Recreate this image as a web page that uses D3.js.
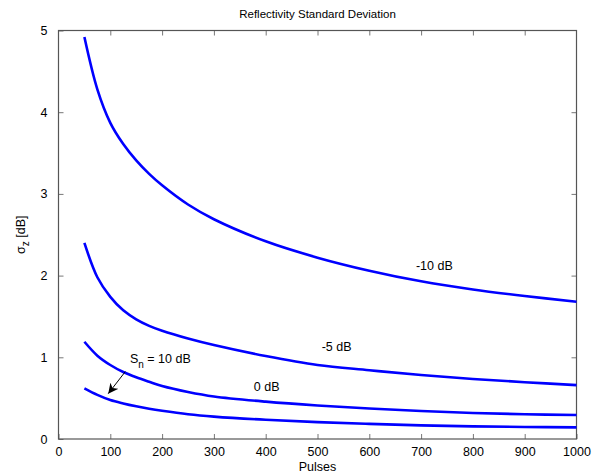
<!DOCTYPE html>
<html>
<head>
<meta charset="utf-8">
<script src="https://cdn.jsdelivr.net/npm/d3@7"></script>
<style>
  body { margin: 0; background: #fff; }
  text { font-family: "Liberation Sans", Arial, sans-serif; }
</style>
</head>
<body>
<script>
// pulses (x) and sigma_z values, one array per Sn
let pulses = [50, 75, 100, 125, 150, 175, 200, 250, 300, 400, 500, 600, 700, 800, 900, 1000]
let snMinus10 = [4.92, 4.28, 3.87, 3.61, 3.41, 3.245, 3.105, 2.87, 2.69, 2.42, 2.22, 2.06, 1.93, 1.83, 1.75, 1.68]
let snMinus5 = [2.40, 1.98, 1.74, 1.575, 1.465, 1.385, 1.325, 1.23, 1.15, 1.015, 0.905, 0.842, 0.783, 0.735, 0.695, 0.66]
let sn0 = [1.19, 1.02, 0.906, 0.82, 0.755, 0.70, 0.648, 0.575, 0.52, 0.457, 0.41, 0.373, 0.342, 0.318, 0.303, 0.293]
let sn10 = [0.62, 0.54, 0.477, 0.435, 0.40, 0.37, 0.345, 0.303, 0.274, 0.235, 0.207, 0.185, 0.167, 0.155, 0.147, 0.142]

let xTicks = [0, 100, 200, 300, 400, 500, 600, 700, 800, 900, 1000]
let yTicks = [0, 1, 2, 3, 4, 5]

let width = 599
let height = 475
let margin = { top: 30.5, right: 22.5, bottom: 36, left: 58.5 }

const x = d3.scaleLinear()
  .domain([0, 1000])
  .range([margin.left, width - margin.right])

const y = d3.scaleLinear()
  .domain([0, 5])
  .range([height - margin.bottom, margin.top])

const svg = d3.select("body")
  .append("svg")
  .attr("width", width)
  .attr("height", height)

svg.append("defs")
  .append("marker")
  .attr("id", "head")
  .attr("viewBox", "0 0 10 10")
  .attr("refX", 10)
  .attr("refY", 5)
  .attr("markerWidth", 10)
  .attr("markerHeight", 10)
  .attr("markerUnits", "userSpaceOnUse")
  .attr("orient", "auto")
  .append("path")
  .attr("d", "M0,0 L10,5 L0,10 L3,5 Z")
  .attr("fill", "#000")

// axes, ticks pointing inward on all four sides
const tickColor = "#777"

svg.append("g")
  .attr("transform", `translate(0,${y(0)})`)
  .call(d3.axisBottom(x).tickValues(xTicks).tickSize(-5).tickPadding(8).tickFormat(d3.format("d")))
  .call(g => g.select(".domain").remove())
  .call(g => g.selectAll("line").attr("stroke", tickColor))
  .call(g => g.selectAll("text").attr("font-size", "12.5px").attr("fill", "#000"))

svg.append("g")
  .attr("transform", `translate(0,${y(5)})`)
  .call(d3.axisTop(x).tickValues(xTicks.slice(1, -1)).tickSize(-5).tickFormat(""))
  .call(g => g.select(".domain").remove())
  .call(g => g.selectAll("line").attr("stroke", tickColor))

svg.append("g")
  .attr("transform", `translate(${x(0)},0)`)
  .call(d3.axisLeft(y).tickValues(yTicks).tickSize(-5).tickPadding(11).tickFormat(d3.format("d")))
  .call(g => g.select(".domain").remove())
  .call(g => g.selectAll("line").attr("stroke", tickColor))
  .call(g => g.selectAll("text").attr("font-size", "12.5px").attr("fill", "#000"))

svg.append("g")
  .attr("transform", `translate(${x(1000)},0)`)
  .call(d3.axisRight(y).tickValues(yTicks.slice(1, -1)).tickSize(-5).tickFormat(""))
  .call(g => g.select(".domain").remove())
  .call(g => g.selectAll("line").attr("stroke", tickColor))

svg.append("rect")
  .attr("x", x(0))
  .attr("y", y(5))
  .attr("width", x(1000) - x(0))
  .attr("height", y(0) - y(5))
  .attr("fill", "none")
  .attr("stroke", "#555")
  .attr("stroke-width", 1.2)

// curves
const line = d3.line()
  .x((d, i) => x(pulses[i]))
  .y(d => y(d))
  .curve(d3.curveCatmullRom.alpha(0.5))

svg.append("g")
  .selectAll("path")
  .data([snMinus10, snMinus5, sn0, sn10])
  .join("path")
  .attr("d", line)
  .attr("fill", "none")
  .attr("stroke", "#0000ff")
  .attr("stroke-width", 2.6)

// labels
const labels = svg.append("g").attr("font-size", "12.5px")

labels.append("text").attr("x", x(690)).attr("y", y(2.07)).text("-10 dB")
labels.append("text").attr("x", x(508)).attr("y", y(1.08)).text("-5 dB")
labels.append("text").attr("x", x(377)).attr("y", y(0.585)).text("0 dB")

let sn = labels.append("text").attr("x", x(138)).attr("y", y(0.935))
sn.append("tspan").text("S")
sn.append("tspan").attr("dy", 5).attr("font-size", "10px").text("n")
sn.append("tspan").attr("dy", -5).text(" = 10 dB")

svg.append("line")
  .attr("x1", x(129)).attr("y1", y(0.825))
  .attr("x2", x(96)).attr("y2", y(0.555))
  .attr("stroke", "#000")
  .attr("stroke-width", 1)
  .attr("marker-end", "url(#head)")

// titles
svg.append("text")
  .attr("x", (x(0) + x(1000)) / 2)
  .attr("y", 18)
  .attr("text-anchor", "middle")
  .attr("font-size", "11.5px")
  .text("Reflectivity Standard Deviation")

svg.append("text")
  .attr("x", (x(0) + x(1000)) / 2)
  .attr("y", 471)
  .attr("text-anchor", "middle")
  .attr("font-size", "12.5px")
  .text("Pulses")

let yl = svg.append("text")
  .attr("transform", `translate(25,${(y(0) + y(5)) / 2}) rotate(-90)`)
  .attr("text-anchor", "middle")
  .attr("font-size", "12.5px")
yl.append("tspan").text("σ")
yl.append("tspan").attr("dy", 4).attr("font-size", "10px").text("z")
yl.append("tspan").attr("dy", -4).text(" [dB]")
</script>
</body>
</html>
